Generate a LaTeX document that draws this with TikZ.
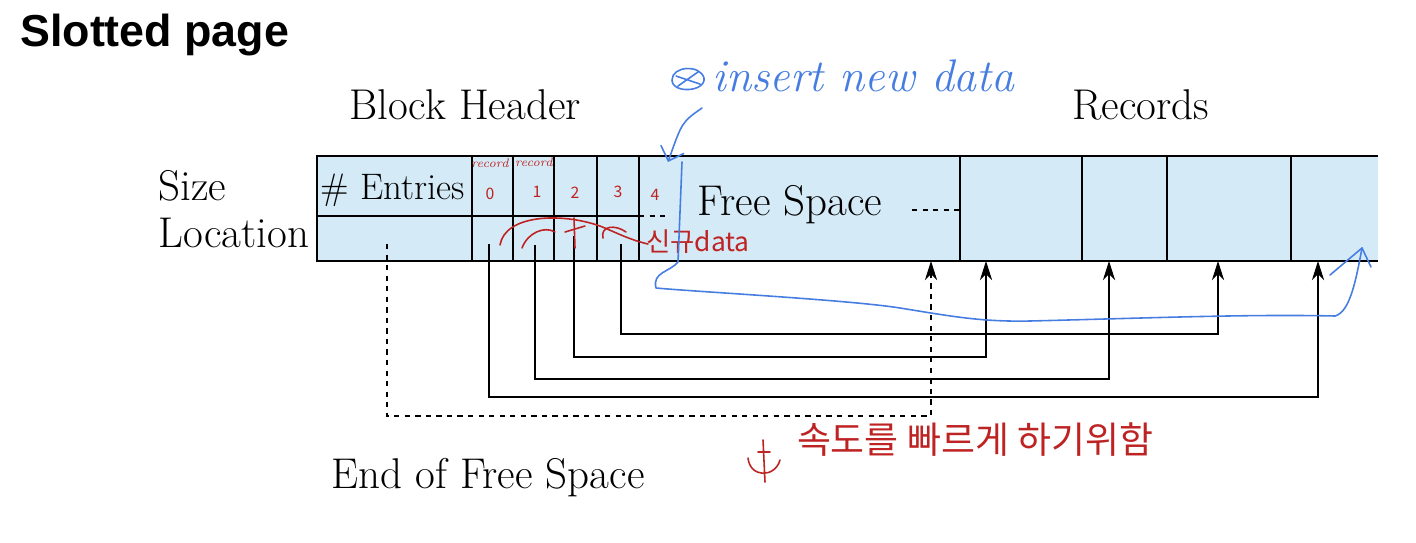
\documentclass[tikz,border=0pt]{standalone}
\usepackage{fontspec}
\setsansfont{Liberation Sans}
\newfontfamily\kofont{Noto Sans CJK KR}
\usetikzlibrary{positioning, arrows.meta, calc}
\definecolor{pagefill}{RGB}{213,234,247}
\definecolor{penblue}{RGB}{70,125,225}
\definecolor{penred}{RGB}{190,35,35}

\begin{document}
\begin{tikzpicture}[
    x=0.02cm, y=-0.02cm,
    every node/.style={inner sep=0pt},
    txt/.style={font=\fontsize{24.5}{28}\selectfont},
    pointer/.style={-{Stealth[length=11pt, width=7pt]}, black, line width=0.6pt},
    freeptr/.style={pointer, dashed},
    ink/.style={line width=0.9pt, line cap=round, line join=round},
    bluenote/.style={penblue, font=\itshape\fontsize{26}{30}\selectfont},
    rednote/.style={penred, font=\kofont\fontsize{9}{11}\selectfont},
    tinynote/.style={penred, font=\itshape\fontsize{7}{8}\selectfont}
]
\useasboundingbox (0,0) rectangle (1416,542);

% Title
\node[anchor=west, font=\sffamily\bfseries\fontsize{25.5}{30}\selectfont] (title) at (20,35) {Slotted page};

% Page with header, free space and records
\fill[pagefill] (317,156) rectangle (1378,261);
\begin{scope}[line width=0.6pt]
\draw (1378,156) -- (317,156) -- (317,261) -- (1378,261);
\draw (317,216) -- (639,216);
\foreach \x in {472,513,554,597,639,960,1082,1167,1291}
    \draw (\x,156) -- (\x,261);
\draw[dashed] (639,216) -- (668,216);
\draw[dashed] (912,210) -- (960,210);
\end{scope}

% Labels
\node[txt] (header) at (465,105) {Block Header};
\node[txt] (records) at (1141,105) {Records};
\node[txt, font=\fontsize{21}{25}\selectfont] (entries) at (393,190) {\# Entries};
\node[txt, anchor=west] (size) at (158,186) {Size};
\node[txt, anchor=west] (location) at (158,233) {Location};
\node[txt] (free) at (790,205) {Free Space};
\node[txt] (endfree) at (488,478) {End of Free Space};

% Slot entries and their targets
\coordinate (s0) at (489,244);
\coordinate (s1) at (535,245);
\coordinate (s2) at (574,236);
\coordinate (s3) at (621,244);
\coordinate (eofs) at (387,244);
\coordinate (r0) at (1318,261);
\coordinate (r1) at (1109,261);
\coordinate (r2) at (986,261);
\coordinate (r3) at (1218,261);
\coordinate (fs) at (931,261);

% Pointers
\draw[pointer] (s0) -- ++(0,153) -| (r0);
\draw[pointer] (s1) -- ++(0,134) -| (r1);
\draw[pointer] (s2) -- ++(0,121) -| (r2);
\draw[pointer] (s3) -- ++(0,90) -| (r3);
\draw[freeptr] (eofs) -- ++(0,172) -| (fs);

% Red notes
\node[tinynote] (rec0) at (490,163) {record};
\node[tinynote] (rec1) at (534,162) {record};
\node[rednote] (n0) at (490,194) {0};
\node[rednote] (n1) at (537,192) {1};
\node[rednote] (n2) at (575,193) {2};
\node[rednote] (n3) at (618,192) {3};
\node[rednote] (n4) at (655,195) {4};
\node[rednote, font=\kofont\fontsize{15}{17}\selectfont] (newdata) at (698,242) {신규data};
\draw[penred, ink] (500,245) .. controls (505,215) and (560,212) .. (600,226)
    .. controls (615,232) and (630,240) .. (648,244);
\draw[penred, ink] (522,248) .. controls (528,232) and (545,226) .. (555,232);
\draw[penred, ink] (565,232) -- (585,226) (574,218) -- (575,248);
\draw[penred, ink] (603,238) .. controls (600,226) and (615,224) .. (626,232);
\node[penred, font=\kofont\fontsize{21}{25}\selectfont] (speed) at (975,440) {속도를 빠르게 하기위함};
\draw[penred, ink] (748,458) .. controls (750,478) and (775,478) .. (780,460)
    (763,440) -- (765,482) (758,452) -- (770,452);

% Blue notes
\node[bluenote, anchor=west] (insert) at (712,76) {insert new data};
\draw[penblue, ink] (672,80) .. controls (672,66) and (700,64) .. (704,78)
    .. controls (706,92) and (672,94) .. (672,80) (676,76) -- (700,84) (678,86) -- (698,72);
\draw[penblue, ink, -{Straight Barb[length=7pt]}] (702,108) .. controls (682,122) .. (668,162);
\draw[penblue, ink] (682,162) -- (678,262) .. controls (670,272) and (652,272) .. (656,288)
    .. controls (700,292) and (850,300) .. (900,308)
    .. controls (950,316) and (980,322) .. (1030,321)
    .. controls (1150,318) and (1250,314) .. (1335,316)
    .. controls (1350,312) and (1356,280) .. (1362,248);
\draw[penblue, ink] (1330,275) -- (1362,248) -- (1371,267);
\end{tikzpicture}
\end{document}
